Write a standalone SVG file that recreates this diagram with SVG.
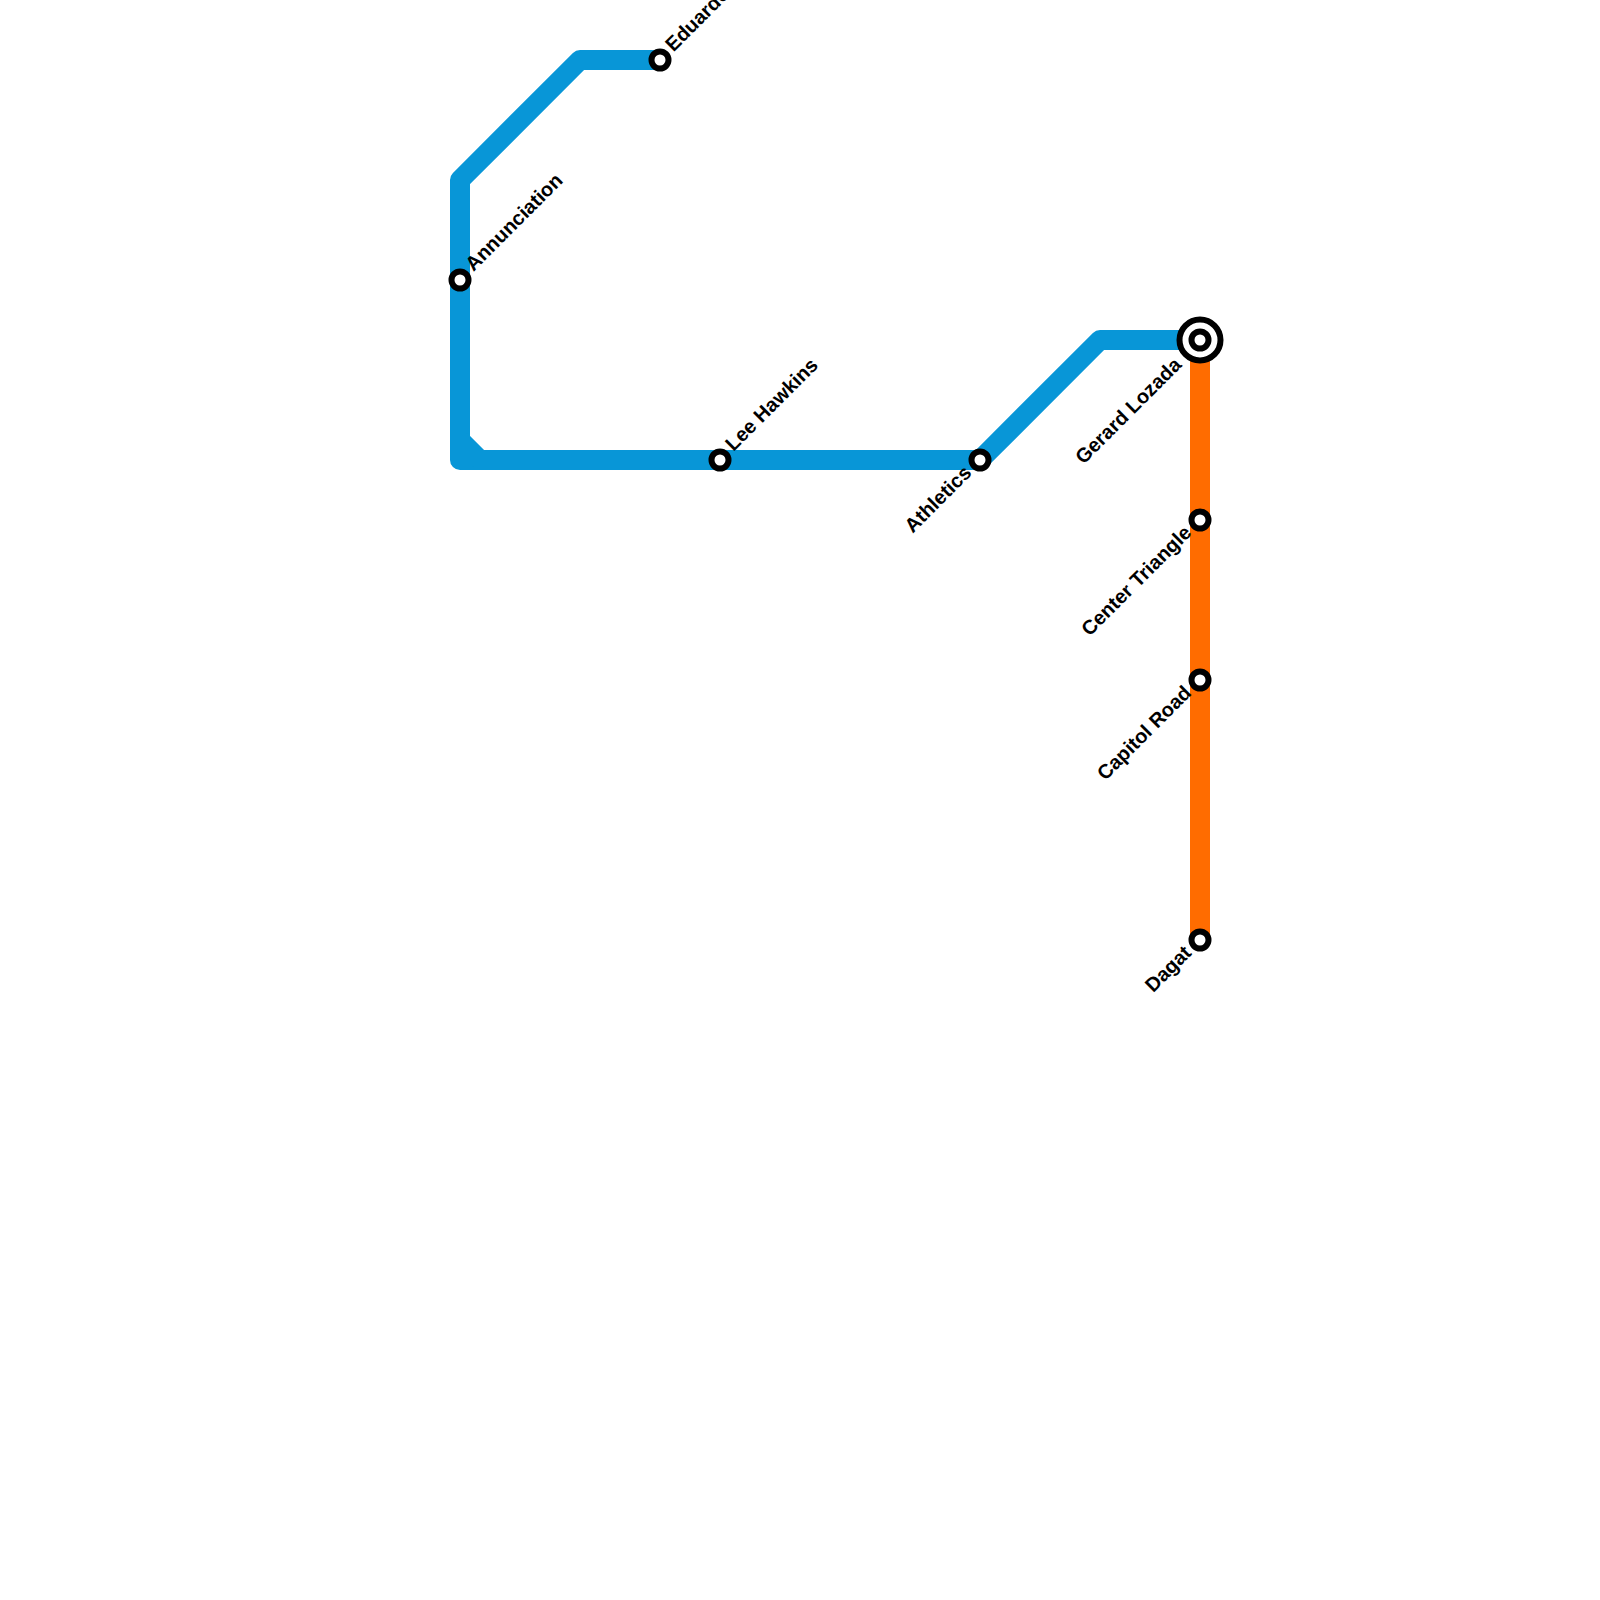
<svg xmlns="http://www.w3.org/2000/svg" width="1600" height="1600" viewBox="0 0 1600 1600">
<style>
.line{fill:none;stroke-width:20;stroke-linejoin:round;stroke-linecap:butt}
.blue{stroke:#0896d7}
.orange{stroke:#ff6c00}
.st{fill:#fff;stroke:#000;stroke-width:6}
.ring{fill:#fff;stroke:#000;stroke-width:6}
text{font-family:"Liberation Sans",Arial,sans-serif;font-size:20px;font-weight:700;fill:#000;text-rendering:geometricPrecision}
.e{text-anchor:end}
</style>
<rect width="1600" height="1600" fill="#fff"/>
<g id="connectors">
<path class="line orange" d="M1200 340V940"/>
<path class="line blue" d="M660 60H580L460 180V460H980L1100 340H1200"/>
<path class="line blue" d="M460 440L480 460"/>
</g>
<g id="eduardo"><circle class="st" cx="660" cy="60" r="8.5"/><text transform="translate(673.5 52.5) rotate(-45)">Eduardo</text></g>
<g id="annunciation"><circle class="st" cx="460" cy="280" r="8.5"/><text transform="translate(473.5 272) rotate(-45)">Annunciation</text></g>
<g id="lee-hawkins"><circle class="st" cx="720" cy="460" r="8.5"/><text transform="translate(733.5 452) rotate(-45)">Lee Hawkins</text></g>
<g id="athletics"><circle class="st" cx="980" cy="460" r="8.5"/><text class="e" transform="translate(972.5 474) rotate(-45)">Athletics</text></g>
<g id="gerard-lozada"><circle class="ring" cx="1200" cy="340" r="20.5"/><circle class="st" cx="1200" cy="340" r="8.5"/><text class="e" transform="translate(1182.5 366) rotate(-45)">Gerard Lozada</text></g>
<g id="center-triangle"><circle class="st" cx="1200" cy="520" r="8.5"/><text class="e" transform="translate(1192.5 534) rotate(-45)">Center Triangle</text></g>
<g id="capitol-road"><circle class="st" cx="1200" cy="680" r="8.5"/><text class="e" transform="translate(1192.5 694) rotate(-45)">Capitol Road</text></g>
<g id="dagat"><circle class="st" cx="1200" cy="940" r="8.5"/><text class="e" transform="translate(1192.5 954) rotate(-45)">Dagat</text></g>
</svg>
